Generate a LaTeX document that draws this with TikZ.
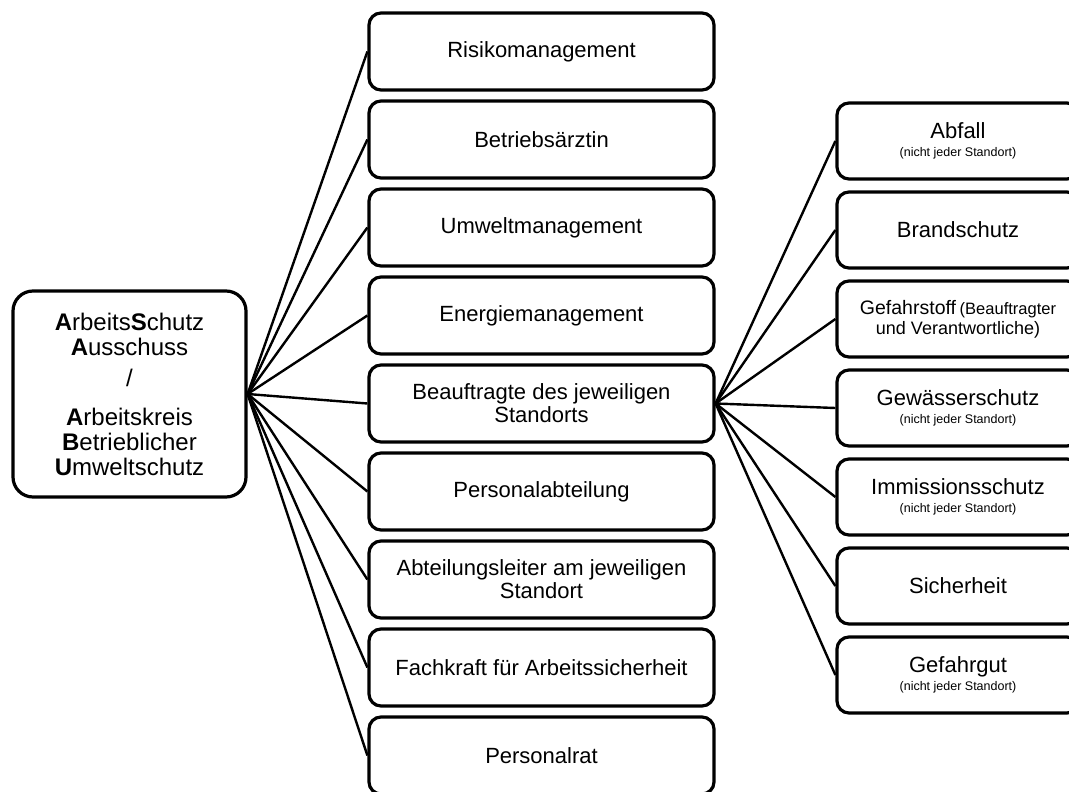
\documentclass[tikz,border=0pt]{standalone}
\usepackage{fontspec}
\setmainfont{Liberation Sans}
\begin{document}
\begin{tikzpicture}[x=1pt,y=-1pt,
	box/.style={draw,line width=3.2pt,rounded corners=12pt,minimum width=345pt,minimum height=77pt,inner sep=0pt,align=center,font=\fontsize{22}{23}\selectfont},
	subbox/.style={box,minimum width=242pt,minimum height=76pt},
	small/.style={font=\fontsize{12.5}{14}\selectfont},
	link/.style={line width=2.4pt}]
	\useasboundingbox (0,0) rectangle (1069,792);
	% Ausschuss links
	\node[draw,line width=3.2pt,rounded corners=20pt,minimum width=233pt,minimum height=206pt,inner sep=0pt,align=center,font=\fontsize{24}{25}\selectfont] (asa) at (129.5,394)
		{\textbf{A}rbeits\textbf{S}chutz\\\textbf{A}usschuss\\[6pt]/\\[14pt]\textbf{A}rbeitskreis\\\textbf{B}etrieblicher\\\textbf{U}mweltschutz};
	% mittlere Spalte
	\node[box] (risiko) at (541.5,51.5) {Risikomanagement};
	\node[box] (arzt) at (541.5,139.5) {Betriebsärztin};
	\node[box] (umwelt) at (541.5,227.5) {Umweltmanagement};
	\node[box] (energie) at (541.5,315.5) {Energiemanagement};
	\node[box] (beauftr) at (541.5,403.5) {Beauftragte des jeweiligen\\Standorts};
	\node[box] (personal) at (541.5,491.5) {Personalabteilung};
	\node[box] (leiter) at (541.5,579.5) {Abteilungsleiter am jeweiligen\\Standort};
	\node[box] (fasi) at (541.5,667.5) {Fachkraft für Arbeitssicherheit};
	\node[box] (rat) at (541.5,755.5) {Personalrat};
	% rechte Spalte
	\node[subbox] (abfall) at (958,141) {Abfall\\[-5pt]{\small\fontsize{12.5}{14}\selectfont(nicht jeder Standort)}};
	\node[subbox] (brand) at (958,230) {Brandschutz};
	\node[subbox] (gefstoff) at (958,319) {{\fontsize{19.5}{20}\selectfont Gefahrstoff}\,{\fontsize{16.5}{18}\selectfont(Beauftragter}\\[-3pt]{\fontsize{18}{18}\selectfont und Verantwortliche)}};
	\node[subbox] (gewaesser) at (958,408) {Gewässerschutz\\[-5pt]{\fontsize{12.5}{14}\selectfont(nicht jeder Standort)}};
	\node[subbox] (immission) at (958,497) {Immissionsschutz\\[-5pt]{\fontsize{12.5}{14}\selectfont(nicht jeder Standort)}};
	\node[subbox] (sicher) at (958,586) {Sicherheit};
	\node[subbox] (gefgut) at (958,675) {Gefahrgut\\[-5pt]{\fontsize{12.5}{14}\selectfont(nicht jeder Standort)}};
	% Verbindungen
	\draw[link] (asa.east) -- (risiko.west);
	\draw[link] (asa.east) -- (arzt.west);
	\draw[link] (asa.east) -- (umwelt.west);
	\draw[link] (asa.east) -- (energie.west);
	\draw[link] (asa.east) -- (beauftr.west);
	\draw[link] (asa.east) -- (personal.west);
	\draw[link] (asa.east) -- (leiter.west);
	\draw[link] (asa.east) -- (fasi.west);
	\draw[link] (asa.east) -- (rat.west);
	\draw[link] (beauftr.east) -- (abfall.west);
	\draw[link] (beauftr.east) -- (brand.west);
	\draw[link] (beauftr.east) -- (gefstoff.west);
	\draw[link] (beauftr.east) -- (gewaesser.west);
	\draw[link] (beauftr.east) -- (immission.west);
	\draw[link] (beauftr.east) -- (sicher.west);
	\draw[link] (beauftr.east) -- (gefgut.west);
\end{tikzpicture}
\end{document}
